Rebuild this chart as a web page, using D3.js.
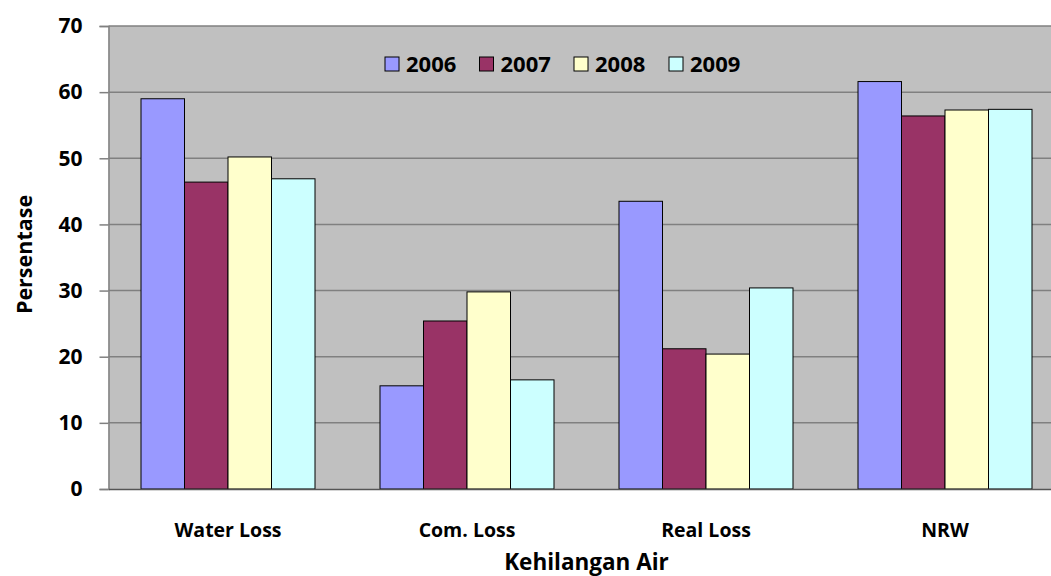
<!DOCTYPE html>
<html>
<head>
<meta charset="utf-8">
<script src="https://cdn.jsdelivr.net/npm/d3@7"></script>
<style>
  body { margin: 0; background: #fff; }
  svg { display: block; font-family: "Open Sans", "Noto Sans", sans-serif; font-weight: bold; }
</style>
</head>
<body>
<svg id="chart" width="1051" height="576"></svg>
<script>
const categories = ["Water Loss", "Com. Loss", "Real Loss", "NRW"];
const years = ["2006", "2007", "2008", "2009"];
const values2006 = [59.0, 15.6, 43.5, 61.6];
const values2007 = [46.4, 25.4, 21.2, 56.4];
const values2008 = [50.2, 29.8, 20.4, 57.3];
const values2009 = [46.9, 16.5, 30.4, 57.4];
const yTicks = [0, 10, 20, 30, 40, 50, 60, 70];
const colors = ["#9999FF", "#993366", "#FFFFCC", "#CCFFFF"];

const series = [values2006, values2007, values2008, values2009];

const svg = d3.select("#chart");
const pLeft = 108.5, pRight = 1064.5, pTop = 26, pBottom = 489;

const x = d3.scaleBand().domain(categories).range([pLeft, pRight]).paddingInner(0).paddingOuter(0);
const groupPad = 32.5;
const xInner = d3.scaleBand().domain(years).range([groupPad, x.bandwidth() - groupPad]);
const y = d3.scaleLinear().domain([0, 70]).range([pBottom, pTop]);

// plot background
svg.append("rect").attr("x", pLeft).attr("y", pTop).attr("width", pRight - pLeft).attr("height", pBottom - pTop)
  .attr("fill", "#C0C0C0");

// gridlines
svg.append("g").selectAll("line").data(yTicks.filter(d => d > 0)).join("line")
  .attr("x1", pLeft).attr("x2", pRight)
  .attr("y1", d => y(d)).attr("y2", d => y(d))
  .attr("stroke", "#808080").attr("stroke-width", 1.5);

// bars
const groups = svg.append("g").selectAll("g").data(categories).join("g")
  .attr("transform", c => `translate(${x(c)},0)`);
groups.selectAll("rect").data((c, ci) => years.map((yr, si) => ({ yr, si, v: series[si][ci] }))).join("rect")
  .attr("x", d => xInner(d.yr))
  .attr("width", xInner.bandwidth())
  .attr("y", d => y(d.v))
  .attr("height", d => y(0) - y(d.v))
  .attr("fill", d => colors[d.si])
  .attr("stroke", "#000").attr("stroke-width", 1);

// y axis
const yAxis = d3.axisLeft(y).tickValues(yTicks).tickSize(9).tickPadding(17).tickFormat(d3.format("d"));
const ya = svg.append("g").attr("transform", `translate(${pLeft},0)`).call(yAxis);
ya.attr("font-size", null).attr("font-family", null);
ya.select(".domain").attr("stroke", "#808080").attr("stroke-width", 1.5);
ya.selectAll(".tick line").attr("stroke", "#808080").attr("stroke-width", 1.5);
ya.selectAll(".tick text").style("font-size", "21px").style("font-weight", "bold")
  .style("font-family", "'Open Sans', sans-serif").attr("fill", "#000");

// x axis
const xAxis = d3.axisBottom(x).tickSize(0).tickPadding(34);
const xa = svg.append("g").attr("transform", `translate(0,${pBottom})`).call(xAxis);
xa.attr("font-size", null).attr("font-family", null);
xa.select(".domain").attr("stroke", "#555").attr("stroke-width", 1.5);
xa.selectAll(".tick text").style("font-size", "19.5px").style("font-weight", "bold")
  .style("font-family", "'Open Sans', sans-serif").attr("fill", "#000");

// axis titles
svg.append("text").attr("x", (pLeft + pRight) / 2).attr("y", 570).attr("text-anchor", "middle")
  .style("font-size", "22.5px").text("Kehilangan Air");
svg.append("text").attr("transform", `translate(32,${(pTop + pBottom) / 2 - 3}) rotate(-90)`)
  .attr("text-anchor", "middle").style("font-size", "21.5px").text("Persentase");

// legend
const legendX = [385, 479.5, 574, 669];
const lg = svg.append("g").selectAll("g").data(years).join("g")
  .attr("transform", (d, i) => `translate(${legendX[i]},57)`);
lg.append("rect").attr("width", 14).attr("height", 14).attr("fill", (d, i) => colors[i])
  .attr("stroke", "#000").attr("stroke-width", 1);
lg.append("text").attr("x", 21).attr("y", 15).style("font-size", "22px").text(d => d);
</script>
</body>
</html>
